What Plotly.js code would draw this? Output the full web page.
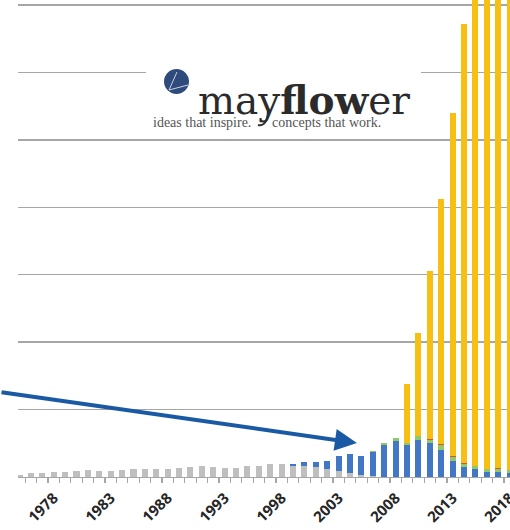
<!DOCTYPE html>
<html>
<head>
<meta charset="utf-8">
<script src="https://cdn.plot.ly/plotly-3.0.1.min.js"></script>
<style>html,body{margin:0;padding:0;background:#fff;}#chart{width:510px;height:530px;}</style>
</head>
<body>
<div id="chart"></div>
<script>
// Years (categories)
const years = [1975,1976,1977,1978,1979,1980,1981,1982,1983,1984,
               1985,1986,1987,1988,1989,1990,1991,1992,1993,1994,
               1995,1996,1997,1998,1999,2000,2001,2002,2003,2004,
               2005,2006,2007,2008,2009,2010,2011,2012,2013,2014,
               2015,2016,2017,2018];
// Series values (one grid step = 100)
const grayVals = [3.7,5.2,5.9,7.1,7.9,9.3,10.1,9.6,8.3,9.8,
                  11.6,11.6,11.9,11.9,13.3,14.8,15.8,14.4,13.8,13.8,
                  15.8,15.8,19.7,19.7,16.7,16.7,14.5,12.3,8.6,5.6,
                  2.7,1.2,0.6,0,0,0,0,0,0,0,
                  0,0,0,0];
const blueVals = [0,0,0,0,0,0,0,0,0,0,
                  0,0,0,0,0,0,0,0,0,0,
                  0,0,0,0,3.3,6.2,8.4,12.1,22.2,29.2,
                  28.7,36.3,46.5,53.6,47,54.8,50.1,40.7,23.4,15.1,
                  11.6,7.9,7.9,6.2];
const greenVals = [0,0,0,0,0,0,0,0,0,0,
                   0,0,0,0,0,0,0,0,0,0,
                   0,0,0,0,0,0,0,0,0,0,
                   0,1.8,3.6,4.7,3.7,5.6,4.4,7.4,6.7,3.7,
                   4.4,3.7,4.1,3.7];
const redVals = [0,0,0,0,0,0,0,0,0,0,
                 0,0,0,0,0,0,0,0,0,0,
                 0,0,0,0,0,0,0,0,0,0,
                 0,0,0,0,0,0,1.2,1.5,1.5,2.7,
                 0.7,0.5,1.8,1.2];
const yellowVals = [0,0,0,0,0,0,0,0,0,0,
                    0,0,0,0,0,0,0,0,0,0,
                    0,0,0,0,0,0,0,0,0,0,
                    0,0,0,0,87.8,153.2,249.2,363,508,650.4,
                    780,900,980,1040];
const tickYears = [1978,1983,1988,1993,1998,2003,2008,2013,2018];
const tickLabels = ['1978','1983','1988','1993','1998','2003','2008','2013','2018'];
const arrowTip = {year: 2004.6, value: 50.4};

const series = [
  {name:'gray', y: grayVals, color:'#bfbfbf'},
  {name:'blue', y: blueVals, color:'#4277c6'},
  {name:'green', y: greenVals, color:'#8fc866'},
  {name:'red', y: redVals, color:'#d0553a'},
  {name:'yellow', y: yellowVals, color:'#f6bf12'}
];
const traces = series.map(s => ({
  type:'bar', x: years, y: s.y, name: s.name,
  marker:{color: s.color, line:{width:0}}, hoverinfo:'skip'
}));

const W = 492, H = 477, L = 18;
const px = v => (v - L) / W;
const py = v => 1 - v / H;

const layout = {
  width:510, height:530,
  margin:{l:18, r:0, t:0, b:53, pad:0},
  paper_bgcolor:'#fff', plot_bgcolor:'#fff',
  showlegend:false, barmode:'stack', bargap:0.47,
  xaxis:{
    range:[1974.87, 2018.03], showgrid:false, zeroline:false,
    showline:true, linecolor:'#a6a6a6', linewidth:1.3,
    tickmode:'array', tickvals: tickYears, ticktext: tickLabels,
    ticks:'', tickangle:-45, ticklabelstandoff:5, ticklabeloverflow:'allow',
    tickfont:{family:'Open Sans', size:15, color:'#262626', weight:'bold'},
    minor:{tickmode:'linear', tick0:1974.5, dtick:1, ticks:'outside', ticklen:5, tickwidth:1.3, tickcolor:'#a6a6a6', showgrid:false},
    fixedrange:true
  },
  yaxis:{
    range:[0, 707.4], tickmode:'linear', tick0:0, dtick:100,
    showgrid:true, gridcolor:'#a6a6a6', gridwidth:1.3,
    zeroline:false, showline:false, showticklabels:false, ticks:'',
    fixedrange:true
  },
  shapes:[
    {type:'rect', xref:'paper', yref:'paper', x0:px(146), x1:px(421), y0:py(134), y1:py(62),
     fillcolor:'#ffffff', line:{width:0}, layer:'above'},
    {type:'circle', xref:'paper', yref:'paper', x0:px(164), x1:px(189), y0:py(94), y1:py(69),
     fillcolor:'#2f4b7c', line:{width:0}, layer:'above'},
    {type:'line', xref:'paper', yref:'paper', x0:px(169), y0:py(90), x1:px(177), y1:py(72),
     line:{color:'#c9d3e3', width:1}, layer:'above'},
    {type:'line', xref:'paper', yref:'paper', x0:px(169), y0:py(90), x1:px(188), y1:py(85),
     line:{color:'#c9d3e3', width:1}, layer:'above'},
    {type:'path', xref:'paper', yref:'paper',
     path:'M '+px(268)+','+py(111)+' Q '+px(267)+','+py(127)+' '+px(258)+','+py(125),
     line:{color:'#333', width:2}, layer:'above'}
  ],
  annotations:[
    {xref:'paper', yref:'paper', x:px(196), y:py(100), xanchor:'left', yanchor:'middle',
     text:'may<b>flow</b>er', showarrow:false,
     font:{family:'DejaVu Serif', size:39, color:'#2b2b2b'}},
    {xref:'paper', yref:'paper', x:px(151), y:py(122), xanchor:'left', yanchor:'middle',
     text:'ideas that inspire.', showarrow:false,
     font:{family:'Liberation Serif', size:14, color:'#555'}},
    {xref:'paper', yref:'paper', x:px(270), y:py(122), xanchor:'left', yanchor:'middle',
     text:'concepts that work.', showarrow:false,
     font:{family:'Liberation Serif', size:14, color:'#555'}},
    {xref:'x', yref:'y', x: arrowTip.year, y: arrowTip.value, text:'',
     showarrow:true, arrowhead:2, arrowsize:1.1, arrowwidth:4, arrowcolor:'#1a5aa5',
     ax:-357, ay:-51, standoff:0}
  ]
};

Plotly.newPlot('chart', traces, layout, {displayModeBar:false, staticPlot:true});
</script>
</body>
</html>
